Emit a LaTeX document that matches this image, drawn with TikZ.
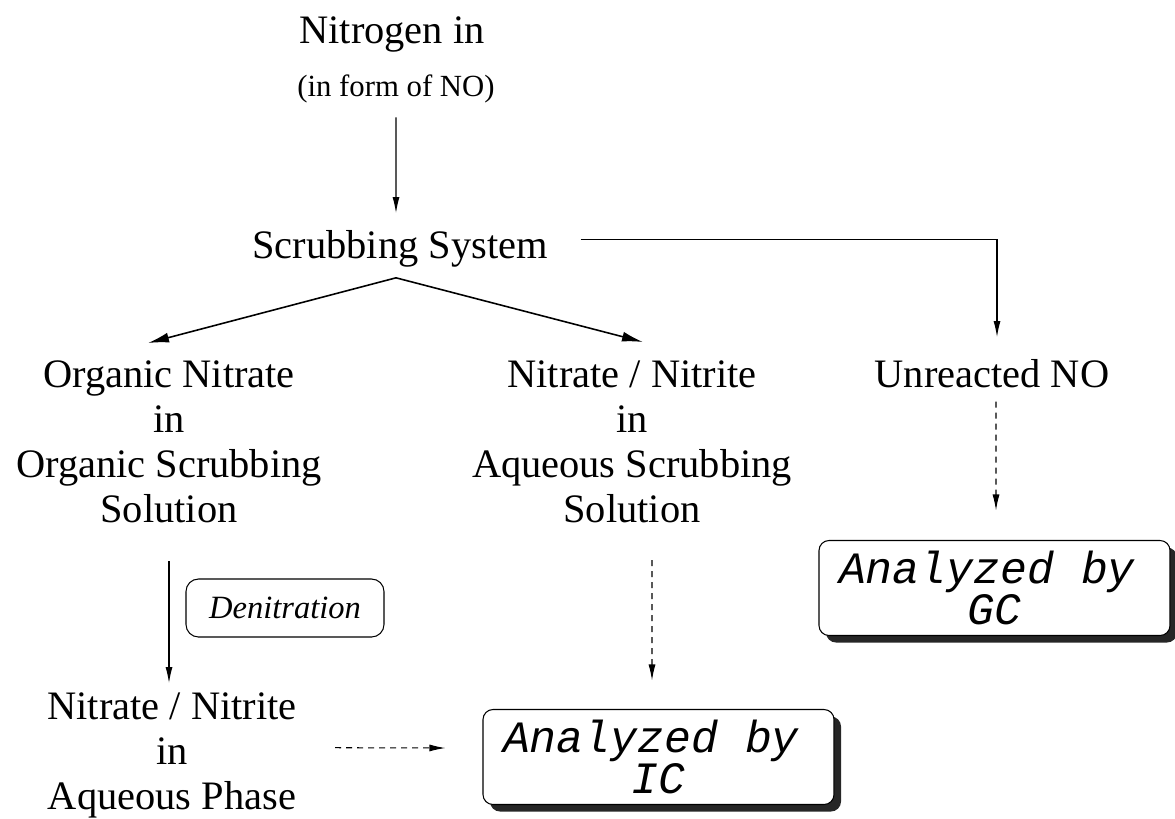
\documentclass[tikz,border=0pt]{standalone}
\usepackage{fontspec}
\setmainfont{Liberation Serif}
\setmonofont{Liberation Mono}
\usetikzlibrary{arrows.meta,calc,shadows}
\tikzset{flow state/.style={align=center, inner sep=0pt, anchor=north, font=\fontsize{23}{25.6}\selectfont}}
\tikzset{
	step state/.style={draw, rounded corners=0.25cm, minimum width=3.96cm, minimum height=1.16cm,
		font=\fontsize{18.5}{20}\selectfont\itshape},
	analysis state/.style={draw, rounded corners=0.2cm, fill=white, minimum width=7.02cm, minimum height=1.9cm,
		align=center, inner sep=0pt, font=\fontsize{25.5}{23}\selectfont\ttfamily\itshape,
		drop shadow={shadow xshift=0.14cm, shadow yshift=-0.14cm, fill=black, opacity=0.85}},
	flow/.style={->},
	split flow/.style={-{Latex[length=0.42cm,width=0.2cm]}, line width=0.9pt},
	check/.style={->, dash pattern=on 0.12cm off 0.1cm}
}

\begin{document}
\begin{tikzpicture}[>={Latex[length=0.32cm,width=0.14cm]}, line width=0.6pt]
	\useasboundingbox (0,0) rectangle (23.5,-16.36);
	\node[flow state] at (7.84,-0.32) (nitro) {Nitrogen in};
	\node[flow state, font=\fontsize{17.5}{20}\selectfont] at (7.92,-1.49) (nitro_form) {(in form of NO)};
	\node[flow state] at (8.0,-4.60) (scrub) {Scrubbing System};
	\node[flow state] at (3.38,-7.20) (org_nitrate) {Organic Nitrate\\in\\Organic Scrubbing\\Solution};
	\node[flow state] at (12.64,-7.20) (aq_nitrate) {Nitrate / Nitrite\\in\\Aqueous Scrubbing\\Solution};
	\node[flow state] at (19.84,-7.18) (unreacted) {Unreacted NO};
	\node[flow state] at (3.44,-13.84) (aq_phase) {Nitrate / Nitrite\\in\\Aqueous Phase};
	\node[step state] at (5.7,-12.16) (denit) {Denitration};
	\node[analysis state] at (19.89,-11.76) (gc) {Analyzed by\hspace*{0.3cm}\\GC};
	\node[analysis state] at (13.17,-15.14) (ic) {Analyzed by\hspace*{0.3cm}\\IC};
	\coordinate (split) at ($(scrub.south)+(-0.08,-0.2)$);
	\path ($(nitro_form.south)+(0,-0.27)$) edge[flow] ($(scrub.north)+(-0.08,0.34)$);
	\path (split) edge[split flow] ($(org_nitrate.north)+(-0.42,0.34)$);
	\path (split) edge[split flow] ($(aq_nitrate.north)+(0.22,0.36)$);
	\draw[flow] ($(scrub.east)+(0.65,0.19)$) -| ($(unreacted.north)+(0.1,0.44)$);
	% denitration step
	\path ($(org_nitrate.south)+(0,-0.76)$) edge[flow] ($(aq_phase.north)+(-0.06,0.18)$);
	\path ($(aq_nitrate.south)+(0.4,-0.74)$) edge[check] ($(ic.north)+(-0.13,0.57)$);
	\path ($(unreacted.south)+(0.08,-0.26)$) edge[check] ($(gc.north)+(0.03,0.59)$);
	\path ($(aq_phase.east)+(0.76,0.15)$) edge[check] ($(ic.west)+(-0.74,0.18)$);
\end{tikzpicture}
\end{document}
